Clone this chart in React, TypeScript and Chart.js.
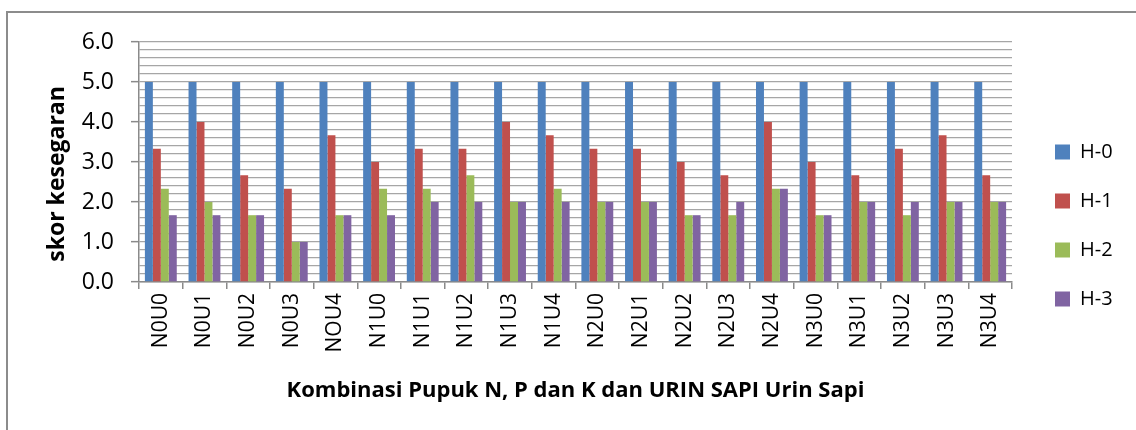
import React, { useEffect, useRef } from "react";
import { Chart, registerables } from "chart.js";

Chart.register(...registerables);

const categories = [
  "N0U0", "N0U1", "N0U2", "N0U3", "NOU4",
  "N1U0", "N1U1", "N1U2", "N1U3", "N1U4",
  "N2U0", "N2U1", "N2U2", "N2U3", "N2U4",
  "N3U0", "N3U1", "N3U2", "N3U3", "N3U4",
];

const h0 = [5, 5, 5, 5, 5, 5, 5, 5, 5, 5, 5, 5, 5, 5, 5, 5, 5, 5, 5, 5];
const h1 = [3.33, 4.0, 2.67, 2.33, 3.67, 3.0, 3.33, 3.33, 4.0, 3.67, 3.33, 3.33, 3.0, 2.67, 4.0, 3.0, 2.67, 3.33, 3.67, 2.67];
const h2 = [2.33, 2.0, 1.67, 1.0, 1.67, 2.33, 2.33, 2.67, 2.0, 2.33, 2.0, 2.0, 1.67, 1.67, 2.33, 1.67, 2.0, 1.67, 2.0, 2.0];
const h3 = [1.67, 1.67, 1.67, 1.0, 1.67, 1.67, 2.0, 2.0, 2.0, 2.0, 2.0, 2.0, 1.67, 2.0, 2.33, 1.67, 2.0, 2.0, 2.0, 2.0];

const seriesNames = ["H-0", "H-1", "H-2", "H-3"];
const seriesColors = ["#4F81BD", "#C0504D", "#9BBB59", "#8064A2"];

const yTitle = "skor kesegaran";
const xTitle = "Kombinasi Pupuk N, P dan K dan URIN SAPI Urin Sapi";

const FONT = "'Open Sans', 'Noto Sans', sans-serif";
const AXIS_COLOR = "#8a8a8a";
const GRID_COLOR = "#a6a6a6";

const isMajor = (v: number) => Math.abs(v - Math.round(v)) < 1e-6;

const legendShift = {
  id: "legendShift",
  afterLayout(chart: any) {
    const l = chart.legend;
    if (l) {
      l.left += 14;
      l.right += 14;
    }
  },
};

export default function App() {
  const ref = useRef<HTMLCanvasElement | null>(null);

  useEffect(() => {
    if (!ref.current) return;
    const data = [h0, h1, h2, h3];
    const chart = new Chart(ref.current, {
      type: "bar",
      data: {
        labels: categories,
        datasets: data.map((d, i) => ({
          label: seriesNames[i],
          data: d,
          backgroundColor: seriesColors[i],
          borderWidth: 0,
          barPercentage: 1,
          categoryPercentage: 0.73,
        })),
      },
      options: {
        animation: false,
        responsive: false,
        maintainAspectRatio: false,
        layout: { padding: { left: 0, top: 42, right: 34, bottom: 21 } },
        plugins: {
          legend: {
            position: "right",
            maxWidth: 90,
            labels: {
              boxWidth: 15,
              boxHeight: 15,
              padding: 29,
              color: "#000",
              font: { family: FONT, size: 20 },
            },
          },
          tooltip: { enabled: false },
        },
        scales: {
          x: {
            afterFit: (s: any) => {
              s.height = 127;
            },
            grid: {
              offset: true,
              drawOnChartArea: false,
              drawTicks: true,
              tickLength: 7,
              color: AXIS_COLOR,
              lineWidth: 1.5,
            },
            border: { color: AXIS_COLOR, width: 1.5 },
            ticks: {
              autoSkip: false,
              maxRotation: 90,
              minRotation: 90,
              padding: 4,
              color: "#000",
              font: { family: FONT, size: 21 },
            },
            title: {
              display: true,
              text: xTitle,
              color: "#000",
              font: { family: FONT, size: 22, weight: "bold" },
              padding: { top: 0, bottom: 5 },
            },
          },
          y: {
            min: 0,
            max: 6,
            afterFit: (s: any) => {
              s.width = 139;
            },
            grid: {
              color: GRID_COLOR,
              lineWidth: 1.3,
              drawTicks: true,
              tickLength: 8,
              tickColor: (ctx: any) =>
                ctx.tick && isMajor(ctx.tick.value) ? AXIS_COLOR : "rgba(0,0,0,0)",
              tickWidth: 1.5,
            },
            border: { color: AXIS_COLOR, width: 1.5 },
            ticks: {
              stepSize: 0.2,
              autoSkip: false,
              padding: 17,
              color: "#000",
              font: { family: FONT, size: 23 },
              callback: (value: any) => {
                const v = Number(value);
                return isMajor(v) ? v.toFixed(1) : "";
              },
            },
            title: {
              display: true,
              text: yTitle + "\u00a0\u00a0\u00a0\u00a0",
              color: "#000",
              font: { family: FONT, size: 23, weight: "bold" },
              padding: { top: 44, bottom: 0 },
            },
          },
        },
      },
      plugins: [legendShift],
    });
    return () => chart.destroy();
  }, []);

  return (
    <div
      style={{
        position: "fixed",
        left: 0,
        top: 0,
        width: 1136,
        height: 430,
        overflow: "hidden",
        background: "#fff",
      }}
    >
      <div
        style={{
          position: "absolute",
          left: 6,
          top: 11,
          width: 1300,
          height: 600,
          borderTop: "2px solid #8c8c8c",
          borderLeft: "2px solid #8c8c8c",
        }}
      />
      <canvas
        ref={ref}
        width={1136}
        height={430}
        style={{ position: "absolute", left: 0, top: 0, width: 1136, height: 430 }}
      />
    </div>
  );
}
